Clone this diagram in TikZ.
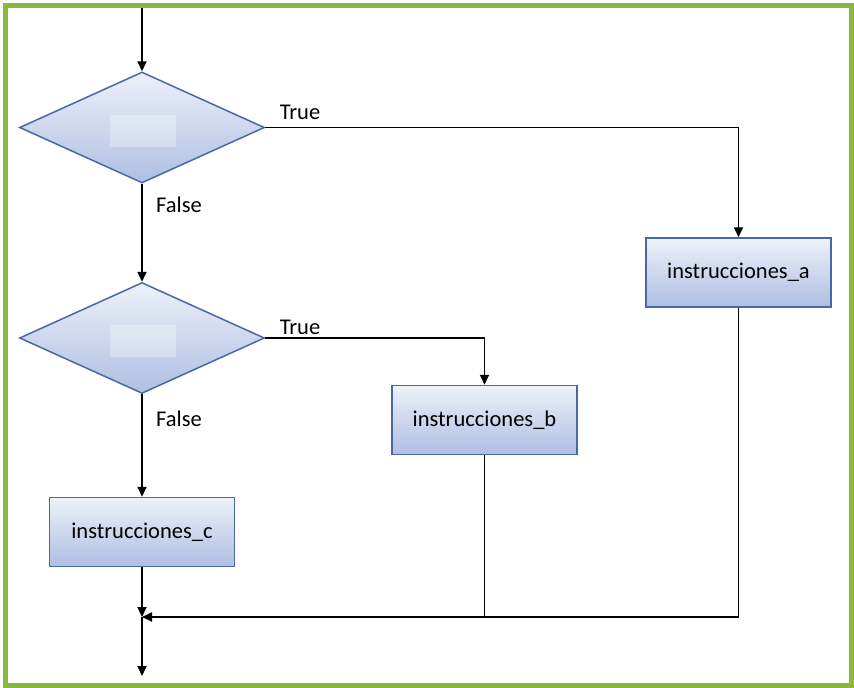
\documentclass[tikz,border=0pt]{standalone}
\usepackage{fontspec}
\setmainfont{Carlito}
\usetikzlibrary{shapes.geometric,arrows.meta}
\definecolor{verdemarco}{HTML}{8AB83A}
\definecolor{azulborde}{HTML}{4A68A6}
\definecolor{azulclaro}{HTML}{EDF1F9}
\definecolor{azuloscuro}{HTML}{AEBFE2}
\begin{document}
\begin{tikzpicture}[x=1pt, y=-1pt]
\tikzset{
    >={Triangle[length=10pt, width=9pt]},
    flecha/.style={->, line width=1.9pt, black},
    linea/.style={-, line width=1.9pt, black},
    decision/.style={diamond, draw=azulborde, line width=1.5pt, inner sep=0pt,
                     minimum width=245pt, minimum height=111pt,
                     top color=azulclaro, bottom color=azuloscuro},
    proceso/.style={rectangle, draw=azulborde, line width=1.5pt,
                    minimum width=185pt, minimum height=69pt,
                    top color=azulclaro, bottom color=azuloscuro,
                    font=\fontsize{22.5}{25}\selectfont},
    hueco/.style={rectangle, fill=white, fill opacity=0.3, inner sep=0pt,
                  minimum width=66pt, minimum height=32pt},
    etiqueta/.style={font=\fontsize{22.5}{25}\selectfont}
}
\useasboundingbox (0,0) rectangle (854,688);
\draw[verdemarco, line width=5pt] (5.5,5.5) rectangle (851.5,685.5);
% decisiones
\node[decision] (d1) at (142,127.5) {};
\node[hueco] at (143,131) {};
\node[decision] (d2) at (142,338) {};
\node[hueco] at (143,341) {};
% instrucciones
\node[proceso] (a) at (738.5,272.5) {instrucciones\_a};
\node[proceso] (b) at (484.5,420)   {instrucciones\_b};
\node[proceso] (c) at (142,532)     {instrucciones\_c};
\coordinate (inicio) at (142,8);
\coordinate (union)  at (142,617);
\coordinate (fin)    at (142,676);
% conexiones
\draw[flecha] (inicio) -- (d1.north);
\draw[flecha] (d1.east) -| (a.north);
\draw[flecha] (d1.south) -- (d2.north);
\draw[flecha] (d2.east) -| (b.north);
\draw[flecha] (d2.south) -- (c.north);
\draw[flecha] (c.south) -- (union);
\draw[linea]  (b.south) -- (b.south |- union);
\draw[flecha] (a.south) |- (union);
\draw[flecha] (union) -- (fin);
% etiquetas
\node[etiqueta] (t1) at (300,112) {True};
\node[etiqueta] (f1) at (179,205) {False};
\node[etiqueta] (t2) at (300,327) {True};
\node[etiqueta] (f2) at (179,419) {False};
\end{tikzpicture}
\end{document}
